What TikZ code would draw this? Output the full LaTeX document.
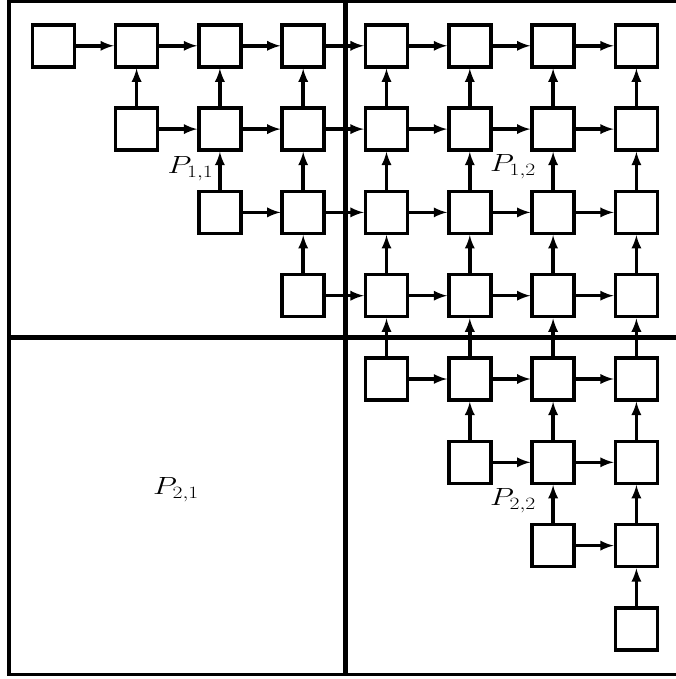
\documentclass[tikz,border=0pt]{standalone}
\usepackage{graphicx}
\usetikzlibrary{positioning}
\usetikzlibrary{arrows}
\tikzset{>=latex}
\tikzstyle{cell} = [rectangle, draw=black, line width=3.5pt, minimum size=42pt, inner sep=0pt]
\tikzstyle{part} = [line width=5pt]
\tikzstyle{lbl} = [font=\fontsize{23.5}{28}\selectfont, inner sep=1pt]

\begin{document}
\begin{tikzpicture}[x=1pt, y=-1pt]
\useasboundingbox (0,0) rectangle (675,679);

% frame and partition lines
\draw [line width=3.3pt] (700,1.5) -- (9,1.5) -- (9,674.5) -- (700,674.5);
\draw [part] (345.8,0) -- (345.8,676);
\draw [part] (9,337.5) -- (700,337.5);

% blocks
\foreach \i in {0,...,7}
  \foreach \j in {\i,...,7}
    \node [cell] (B\i\j) at ({53.3+83.3*\j}, {45.8+83.3*\i}) {};

% dependencies
\foreach \j [evaluate=\j as \k using int(\j-1)] in {1,...,7} {
  \foreach \i [evaluate=\i as \n using int(\i+1)] in {0,...,\k} {
    \draw [-latex, line width=3.5pt, draw=black] (B\i\k) to (B\i\j);
    \draw [-latex, line width=3.5pt, draw=black] (B\n\j) to (B\i\j);
  }
}

\node [lbl] (P11) at (190.5, 168.5) {\scalebox{1.25}[1]{$P_{1,1}$}};
\node [lbl] (P12) at (513, 167) {\scalebox{1.25}[1]{$P_{1,2}$}};
\node [lbl] (P21) at (176, 489.5) {\scalebox{1.25}[1]{$P_{2,1}$}};
\node [lbl] (P22) at (513, 501) {\scalebox{1.25}[1]{$P_{2,2}$}};
\end{tikzpicture}
\end{document}
